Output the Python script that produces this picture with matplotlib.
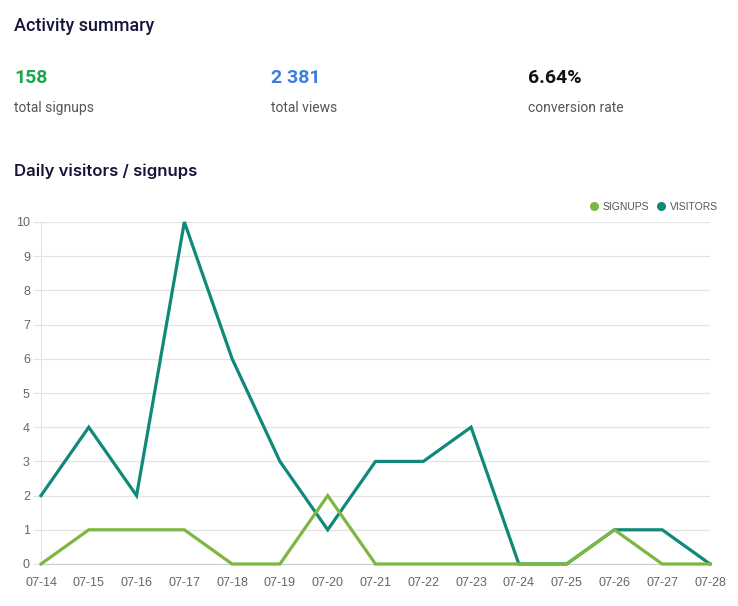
import matplotlib
matplotlib.use("Agg")
import matplotlib.pyplot as plt
from matplotlib.lines import Line2D

# data
dates = ["07-14", "07-15", "07-16", "07-17", "07-18", "07-19", "07-20", "07-21",
         "07-22", "07-23", "07-24", "07-25", "07-26", "07-27", "07-28"]
visitors = [2, 4, 2, 10, 6, 3, 1, 3, 3, 4, 0, 0, 1, 1, 0]
signups = [0, 1, 1, 1, 0, 0, 2, 0, 0, 0, 0, 0, 1, 0, 0]

stat_values = ["158", "2 381", "6.64%"]
stat_labels = ["total signups", "total views", "conversion rate"]
stat_colors = ["#1fa64a", "#3c7ee0", "#111111"]

green = "#7cb83f"
teal = "#10897a"
grid_col = "#e3e3e3"
tick_col = "#666666"

fig = plt.figure(figsize=(7.38, 6.06), dpi=100)
W, H = 738, 606

def fx(px):
    return px / W

def fy(py):
    return 1 - py / H

# header
fig.text(fx(14), fy(26), "Activity summary", family="Roboto", fontsize=13,
         fontweight="medium", color="#15153a", va="center")
for i, (v, lab, c) in enumerate(zip(stat_values, stat_labels, stat_colors)):
    x0 = 14 + i * 257
    fig.text(fx(x0), fy(78), v, family="Roboto", fontsize=14, fontweight="bold",
             color=c, va="center")
    fig.text(fx(x0), fy(108), lab, family="Roboto", fontsize=10,
             color="#555555", va="center")

fig.text(fx(14), fy(171), "Daily visitors / signups", family="Inter", fontsize=12,
         fontweight="semibold", color="#15153a", va="center")

# chart area
ax = fig.add_axes([fx(41), fy(564), fx(710) - fx(41), fy(222) - fy(564)])
x = list(range(len(dates)))
ax.plot(x, visitors, color=teal, linewidth=2.3, solid_joinstyle="miter", zorder=3)
ax.plot(x, signups, color=green, linewidth=2.3, solid_joinstyle="miter", zorder=4)

ax.set_xlim(0, len(dates) - 1)
ax.set_ylim(0, 10)
ax.set_yticks(range(0, 11))
ax.set_xticks(x)
ax.set_xticklabels(dates)
ax.yaxis.grid(True, color=grid_col, linewidth=0.9)
ax.set_axisbelow(True)
for s in ["top", "right"]:
    ax.spines[s].set_visible(False)
ax.spines["left"].set_color(grid_col)
ax.spines["bottom"].set_color("#cccccc")
ax.tick_params(axis="y", length=6, color=grid_col, labelsize=9, labelcolor=tick_col, pad=2)
ax.tick_params(axis="x", length=0, labelsize=9, labelcolor=tick_col, pad=9)
for t in ax.get_xticklabels() + ax.get_yticklabels():
    t.set_family("Liberation Sans")
for line in ax.get_lines():
    line.set_clip_on(False)

# legend in the top right
handles = [
    Line2D([], [], marker="o", linestyle="", color=green, markersize=5.5, label="SIGNUPS"),
    Line2D([], [], marker="o", linestyle="", color=teal, markersize=5.5, label="VISITORS"),
]
fig.legend(handles=handles, loc="center right", bbox_to_anchor=(fx(725), fy(207)),
           ncol=2, frameon=False, handlelength=0.8, handletextpad=0.45,
           columnspacing=0.7, borderpad=0.2,
           prop={"family": "Liberation Sans", "size": 7.5}, labelcolor="#555555")

fig.savefig("out.png", dpi=100, facecolor="white")
